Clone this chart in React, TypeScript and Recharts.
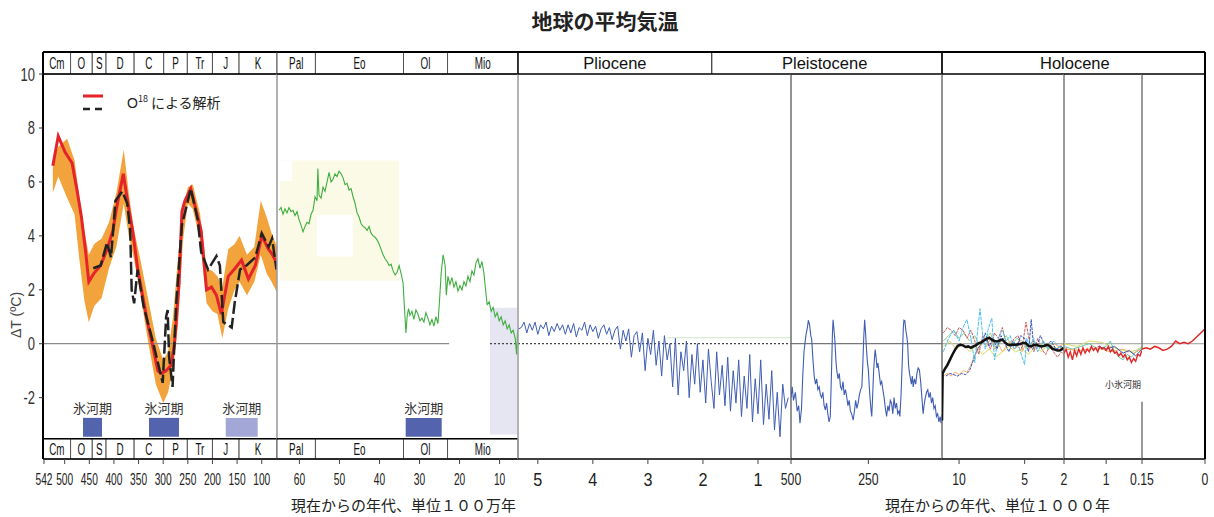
import React from 'react'
import { ComposedChart, Line, Area, XAxis, YAxis, ReferenceArea, ReferenceLine, ReferenceDot } from 'recharts'

// shared vertical scale: header strip above 10, period strip below -3.5
const Y_TOP = 10.818
const Y_BOT = -4.275
const Y_BAND = -3.52
const yTicks = [-2, 0, 2, 4, 6, 8, 10]

// geologic periods (Ma)
const paleoNames = ['Cm', 'O', 'S', 'D', 'C', 'P', 'Tr', 'J', 'K']
const paleoBounds = [544, 488, 444, 416, 359, 299, 251, 200, 146, 69]
const cenoNames = ['Pal', 'Eo', 'Ol', 'Mio']
const cenoBounds = [65.6, 56, 34, 23, 5.4]
const glacialPaleo = [[462.8, 424.2], [328.8, 267.9], [173.1, 108.2]]
const glacialCeno = [[33.45, 24.46]]
const glacialLabel = '氷河期'
const littleIceAge = '小氷河期'

// O18 analysis, 542 - 65 Ma
const o18Red = [
  [524, 6.6], [513, 7.7], [499, 7.1], [485, 6.7], [475, 5.7], [466, 4.7], [458, 3.5], [451, 2.3], [441, 2.6],
  [427, 2.9], [414, 3.5], [402, 4.2], [394, 5.1], [381, 6.3], [369, 4.9], [362, 4.2], [352, 2.8], [342, 1.8],
  [332, 0.8], [321, -0.1], [311, -1.0], [304, -1.1], [294, -1.0], [284, -0.8], [277, 0.0], [268, 2.2],
  [262, 4.9], [256, 5.3], [244, 5.75], [230, 4.7], [223, 4.2], [212, 2.0], [202, 2.1], [192, 1.8], [182, 1.1],
  [168, 2.5], [154, 2.8], [141, 3.1], [127, 2.4], [113, 2.9], [100, 4.0], [86, 3.5], [78, 3.3], [70, 3.0],
]
const o18Black = [
  [442, 2.8], [427, 2.9], [414, 3.75], [406, 3.2], [402, 4.1], [397, 5.3], [383, 5.65], [373, 5.2], [367, 4.2],
  [364, 2.0], [359, 1.5], [352, 2.75], [340, 1.4], [322, 0.15], [301, -1.45], [294, 1.0], [291, 1.25],
  [288, -0.5], [281, -1.6], [274, 1.4], [262, 4.4], [244, 5.75], [230, 4.6], [223, 3.4], [209, 2.75],
  [192, 3.25], [185, 2.9], [178, 0.8], [161, 0.6], [155, 1.5], [144, 2.75], [131, 2.9], [113, 3.2],
  [100, 4.1], [86, 3.6], [79, 3.9], [70, 2.75],
]
const bandAge = [524, 513, 495, 480, 470, 460, 451, 440, 425, 410, 395, 380, 370, 360, 345, 330, 315, 300, 290, 280, 270, 260, 250, 240, 225, 212, 200, 190, 180, 168, 155, 145, 130, 115, 102, 90, 80, 69]
const bandHigh = [6.8, 7.3, 7.6, 6.8, 5.4, 4.2, 3.3, 3.7, 3.9, 4.5, 5.6, 7.2, 5.6, 4.3, 3.0, 1.6, 0.2, -0.6, -0.3, 1.0, 3.2, 5.0, 5.8, 5.9, 4.8, 2.8, 2.7, 2.5, 2.1, 3.5, 3.7, 4.0, 3.3, 3.6, 5.3, 4.7, 4.1, 3.6]
const bandLow = [5.6, 6.2, 5.4, 4.8, 3.1, 1.6, 0.8, 1.4, 1.7, 2.8, 3.6, 5.2, 4.0, 3.2, 1.7, 0.0, -1.5, -2.2, -1.8, -0.9, 0.7, 3.8, 5.2, 5.0, 3.8, 1.5, 1.2, 1.1, 0.2, 1.3, 2.0, 2.3, 1.8, 2.3, 3.3, 2.6, 2.3, 1.9]

// Cenozoic record, 65 - 5 Ma
const cenozoicGreen = [
  [65.1, 4.95], [64.6, 5.05], [64.1, 4.8], [63.6, 5.0], [63.1, 4.85], [62.6, 5.05], [62.1, 4.9], [61.6, 4.95],
  [61.1, 4.75], [60.6, 4.9], [60.1, 4.6], [59.6, 4.4], [59.1, 4.15], [58.6, 4.35], [58.1, 4.5], [57.6, 4.45],
  [57.1, 4.8], [56.6, 4.95], [56.1, 5.45], [55.6, 5.3], [55.4, 6.5], [55.1, 5.5], [54.6, 5.4], [54.1, 5.8],
  [53.6, 5.65], [53.1, 6.0], [52.6, 6.35], [52.1, 6.0], [51.6, 6.1], [51.1, 6.3], [50.6, 6.2], [50.1, 6.4],
  [49.6, 6.3], [49.1, 6.15], [48.6, 5.9], [48.1, 5.95], [47.6, 5.7], [47.1, 5.75], [46.6, 5.45], [46.1, 5.2],
  [45.6, 4.85], [45.1, 4.7], [44.6, 4.45], [44.1, 4.35], [43.6, 4.3], [43.1, 4.2], [42.6, 4.35], [42.1, 4.1],
  [41.6, 4.0], [41.1, 3.95], [40.6, 3.85], [40.1, 3.7], [39.6, 3.5], [39.1, 3.3], [38.6, 3.15], [38.1, 3.05],
  [37.6, 2.9], [37.1, 2.95], [36.6, 2.7], [36.1, 2.55], [35.6, 2.65], [35.1, 2.9], [34.6, 2.6], [34.1, 2.25],
  [33.75, 1.3], [33.4, 0.4], [33.1, 1.0], [32.75, 1.3], [32.4, 1.05], [31.9, 1.2], [31.4, 0.9], [30.9, 1.25],
  [30.4, 1.1], [29.9, 0.85], [29.4, 0.95], [28.9, 0.8], [28.4, 1.15], [27.9, 0.95], [27.4, 0.7], [26.9, 0.9],
  [26.4, 0.65], [25.9, 1.0], [25.4, 0.75], [25.0, 1.6], [24.6, 2.6], [24.1, 3.3], [23.6, 2.9], [23.3, 1.8],
  [22.9, 2.5], [22.4, 2.2], [21.9, 2.45], [21.4, 2.1], [20.9, 2.3], [20.4, 1.95], [19.9, 2.15], [19.4, 2.0],
  [18.9, 2.3], [18.4, 2.15], [17.9, 2.5], [17.4, 2.3], [16.9, 2.7], [16.4, 2.55], [15.9, 3.0], [15.4, 3.15],
  [14.9, 2.8], [14.4, 3.05], [13.9, 2.6], [13.5, 2.0], [13.1, 1.45], [12.6, 1.55], [12.1, 1.2], [11.6, 1.35],
  [11.1, 1.0], [10.6, 1.15], [10.1, 0.85], [9.6, 1.0], [9.1, 0.7], [8.6, 0.85], [8.1, 0.55], [7.6, 0.7],
  [7.1, 0.4], [6.6, 0.5], [6.1, 0.2], [5.75, -0.4], [5.5, 0.5],
]

// Pliocene, 5.3 - 0.5 Ma
const plioceneBlue = [
  [5.35, 0.55], [5.3, 0.6], [5.25, 0.8], [5.2, 0.4], [5.15, 0.75], [5.1, 0.5], [5.05, 0.8], [5.0, 0.35],
  [4.95, 0.7], [4.9, 0.55], [4.85, 0.8], [4.8, 0.3], [4.75, 0.65], [4.7, 0.45], [4.65, 0.75], [4.6, 0.5],
  [4.55, 0.7], [4.5, 0.35], [4.45, 0.7], [4.4, 0.4], [4.35, 0.75], [4.3, 0.25], [4.25, 0.6], [4.2, 0.5],
  [4.15, 0.8], [4.1, 0.3], [4.05, 0.7], [4.0, 0.45], [3.95, 0.65], [3.9, 0.2], [3.85, 0.55], [3.8, 0.7],
  [3.75, 0.35], [3.7, 0.6], [3.65, 0.15], [3.6, 0.5], [3.55, 0.65], [3.5, -0.2], [3.45, 0.5], [3.4, 0.1],
  [3.35, 0.55], [3.3, -0.5], [3.25, 0.3], [3.2, 0.45], [3.15, -0.3], [3.1, 0.4], [3.05, -1.0], [3.0, 0.2],
  [2.95, -0.4], [2.9, 0.5], [2.85, -0.8], [2.8, 0.1], [2.75, -1.2], [2.7, 0.3], [2.65, -0.6], [2.6, 0.0],
  [2.55, -1.6], [2.5, 0.2], [2.45, -1.9], [2.4, -0.3], [2.35, -1.0], [2.3, 0.1], [2.25, -2.0], [2.2, -0.4],
  [2.15, -1.5], [2.1, 0.0], [2.05, -1.8], [2.0, -0.6], [1.95, -2.2], [1.9, -0.2], [1.85, -1.4], [1.8, -2.4],
  [1.75, -0.3], [1.7, -1.9], [1.65, -0.8], [1.6, -2.3], [1.55, -0.5], [1.5, -2.5], [1.45, -1.0], [1.4, -2.2],
  [1.35, -0.6], [1.3, -2.7], [1.25, -1.2], [1.2, -2.4], [1.15, -0.4], [1.1, -2.9], [1.05, -1.3], [1.0, -2.6],
  [0.95, -0.6], [0.9, -3.0], [0.85, -1.5], [0.8, -2.8], [0.75, -1.0], [0.7, -3.2], [0.65, -1.8], [0.6, -3.45],
  [0.55, -1.5], [0.5, -2.4], [0.45, -2.0],
]

// Pleistocene, 500 - 12 kyr
const pleistoceneBlue = [
  [500, -2.0], [496, -1.6], [492, -2.1], [486, -1.8], [480, -2.5], [475, -2.3], [471, -2.95], [466, -2.4],
  [462, -1.2], [458, -0.3], [452, 0.3], [447, 0.6], [444, 0.87], [440, 0.7], [436, 0.3], [433, 0.15],
  [429, -0.6], [425, -1.2], [421, -1.5], [417, -1.3], [413, -1.7], [409, -1.6], [405, -1.9], [401, -2.0],
  [397, -1.8], [393, -2.3], [389, -2.45], [385, -2.2], [381, -2.6], [377, -2.9], [373, -2.7], [369, -1.0],
  [366, 0.4], [364, 0.89], [361, 0.5], [358, 0.1], [355, -0.6], [352, -1.0], [348, -1.3], [344, -1.1],
  [340, -1.6], [336, -1.7], [332, -1.4], [328, -1.9], [324, -1.7], [320, -1.96], [316, -2.3], [312, -2.1],
  [308, -2.5], [304, -2.6], [299, -2.83], [295, -2.5], [291, -2.1], [287, -2.4], [283, -2.2], [279, -1.9],
  [275, -1.7], [271, -1.6], [268, -0.8], [265, 0.2], [262, 0.89], [259, 0.4], [256, -0.2], [253, -0.7],
  [250, -0.97], [247, -1.6], [244, -2.1], [241, -2.5], [239, -2.7], [236, -1.9], [233, -1.0], [230, -0.5],
  [228, -0.22], [225, -0.5], [222, -0.9], [219, -0.72], [215, -1.1], [211, -1.5], [207, -1.4], [203, -1.71],
  [199, -2.0], [195, -2.4], [191, -2.7], [187, -2.3], [183, -2.5], [179, -2.1], [175, -2.2], [171, -2.6],
  [167, -2.0], [163, -2.4], [159, -2.2], [155, -2.6], [151, -2.5], [148, -2.7], [144, -1.8], [140, -0.5],
  [137, 0.6], [135, 0.87], [132, 0.85], [129, 0.5], [126, 0.3], [123, 0.0], [120, -0.8], [117, -1.1],
  [114, -1.3], [111, -1.5], [108, -1.2], [105, -1.6], [101, -1.3], [97, -1.5], [93, -1.1], [89, -0.9],
  [85, -0.97], [81, -1.4], [77, -2.0], [73, -2.6], [70, -2.3], [66, -2.0], [62, -1.8], [58, -1.71],
  [54, -2.0], [50, -1.8], [46, -2.2], [42, -2.0], [38, -2.4], [34, -2.3], [30, -2.7], [26, -2.6],
  [22, -2.9], [18, -2.7], [15, -2.95], [12, -2.6],
]

// Holocene, 11.3 - 2 kyr
const holoceneMean = [
  [11.3, -2.85], [11.25, -1.1], [11.1, -0.95], [10.9, -0.8], [10.7, -0.6], [10.5, -0.4], [10.3, -0.22],
  [10.1, -0.08], [9.9, -0.04], [9.7, -0.06], [9.5, -0.12], [9.3, -0.1], [9.1, -0.15], [8.9, -0.1],
  [8.7, -0.05], [8.5, 0.02], [8.3, 0.05], [8.1, 0.12], [7.9, 0.18], [7.7, 0.22], [7.5, 0.15], [7.3, 0.1],
  [7.1, 0.08], [6.9, 0.12], [6.7, 0.15], [6.5, 0.05], [6.3, -0.03], [6.1, -0.05], [5.9, -0.03], [5.7, -0.05],
  [5.5, -0.02], [5.3, 0.0], [5.1, 0.03], [4.9, 0.02], [4.7, -0.08], [4.5, -0.1], [4.3, -0.05], [4.1, -0.04],
  [3.9, -0.08], [3.7, -0.1], [3.5, -0.08], [3.3, -0.04], [3.1, -0.08], [2.9, -0.18], [2.7, -0.22],
  [2.5, -0.25], [2.3, -0.24], [2.1, -0.18], [2.0, -0.15],
]
const holoceneProxyA = [
  [11.2, -0.3], [10.8, 0.2], [10.4, 0.5], [10.0, 0.1], [9.7, 0.6], [9.4, 0.9], [9.1, 0.2], [8.8, -0.7],
  [8.6, 0.4], [8.4, 1.3], [8.2, 0.3], [8.0, -0.2], [7.8, 0.5], [7.5, 0.95], [7.3, -0.6], [7.0, 0.2],
  [6.7, 0.5], [6.4, 0.1], [6.1, 0.3], [5.8, -0.2], [5.5, 0.0], [5.2, -0.5], [5.0, -0.78], [4.85, 0.2],
  [4.6, -0.1], [4.3, 0.2], [4.0, -0.3], [3.6, 0.1], [3.2, -0.2], [2.8, 0.1], [2.4, -0.1], [2.0, -0.2],
]
const holoceneProxyB = [
  [11.2, 0.4], [10.9, 0.6], [10.6, 0.5], [10.3, 0.3], [10.0, 0.6], [9.7, 0.5], [9.4, 0.2], [9.1, 0.5],
  [8.8, 0.1], [8.5, -0.4], [8.2, 0.3], [7.9, 0.1], [7.6, -0.2], [7.3, 0.4], [7.0, 0.2], [6.7, 0.6],
  [6.4, 0.0], [6.1, -0.1], [5.8, 0.2], [5.5, 0.3], [5.2, -0.2], [4.9, 0.8], [4.6, 0.0], [4.3, -0.3],
  [4.0, 0.2], [3.7, -0.2], [3.4, -0.4], [3.1, -0.1], [2.8, -0.3], [2.5, -0.5], [2.2, -0.3], [2.0, -0.4],
]
const holoceneProxyC = [
  [11.2, 0.1], [10.8, 0.3], [10.4, 0.5], [10.0, 0.2], [9.6, 0.4], [9.2, 0.1], [8.8, 0.3], [8.4, -0.1],
  [8.0, 0.2], [7.6, 0.4], [7.2, -0.2], [6.8, 0.1], [6.4, 0.3], [6.0, -0.1], [5.6, 0.2], [5.2, 0.1],
  [4.8, -0.2], [4.4, 0.1], [4.0, -0.1], [3.6, 0.0], [3.2, -0.2], [2.8, -0.1], [2.4, -0.3], [2.0, -0.2],
]
const holoceneProxyD = [
  [11.2, -1.2], [10.9, -1.1], [10.6, -1.2], [10.3, -1.05], [10.0, -1.15], [9.7, -1.0], [9.4, -1.05],
  [9.1, -0.8], [8.8, -0.4], [8.5, -0.2], [8.2, 0.1], [7.9, -0.1], [7.6, 0.2], [7.3, -0.2], [7.0, 0.0],
  [6.7, -0.3], [6.4, -0.1], [6.1, 0.1], [5.8, -0.2], [5.5, -0.1], [5.2, -0.3], [4.9, 0.0], [4.6, -0.2],
  [4.3, 0.1], [4.0, -0.1], [3.6, 0.05], [3.2, -0.15], [2.8, 0.0], [2.4, -0.1], [2.0, 0.0],
]
const holoceneProxyE = [
  [11.0, -1.2], [10.7, -1.1], [10.4, -1.15], [10.1, -1.2], [9.8, -1.1], [9.5, -1.15], [9.2, -1.0],
  [8.9, -0.6], [8.6, -0.2], [8.3, 0.0], [8.0, 0.4], [7.7, -0.1], [7.4, 0.2], [7.1, -0.2], [6.8, 0.3],
  [6.5, 0.0], [6.2, -0.3], [5.9, 0.1], [5.6, -0.1], [5.3, 0.3], [5.0, 0.2], [4.7, -0.3], [4.5, 0.9],
  [4.3, -0.2], [4.1, -0.2], [3.8, 0.3], [3.4, -0.1], [3.0, 0.1], [2.6, -0.2], [2.2, -0.1], [2.0, -0.3],
]
const holoceneProxyF = [
  [11.2, -0.1], [10.7, 0.1], [10.2, -0.2], [9.7, 0.0], [9.2, -0.3], [8.7, -0.1], [8.2, -0.4], [7.7, -0.2],
  [7.2, -0.5], [6.7, -0.3], [6.2, -0.1], [5.7, -0.3], [5.2, -0.2], [4.7, -0.4], [4.2, -0.1], [3.7, -0.3],
  [3.2, 0.0], [2.7, -0.2], [2.2, -0.1], [2.0, -0.2],
]

// last 2000 years
const recentRed = [
  [2.0, -0.35], [1.95, -0.2], [1.9, -0.5], [1.85, -0.3], [1.8, -0.6], [1.75, -0.25], [1.7, -0.45],
  [1.65, -0.2], [1.6, -0.4], [1.55, -0.15], [1.5, -0.35], [1.45, -0.2], [1.4, -0.3], [1.35, -0.1],
  [1.3, -0.25], [1.25, -0.15], [1.2, -0.3], [1.15, -0.1], [1.1, -0.2], [1.05, -0.15], [1.0, -0.25],
  [0.95, -0.1], [0.9, -0.3], [0.85, -0.2], [0.8, -0.35], [0.75, -0.3], [0.7, -0.45], [0.65, -0.35],
  [0.6, -0.5], [0.55, -0.4], [0.5, -0.6], [0.45, -0.5], [0.4, -0.7], [0.35, -0.55], [0.3, -0.65],
  [0.25, -0.4], [0.2, -0.45], [0.15, -0.25],
]
const recentTeal = [[2.0, -0.1], [1.8, -0.2], [1.6, -0.1], [1.4, 0.0], [1.2, -0.2], [1.0, -0.1], [0.9, 0.1], [0.8, -0.3], [0.7, -0.5], [0.6, -0.6], [0.5, -0.4], [0.4, -0.5], [0.3, -0.3], [0.2, -0.2], [0.15, -0.15]]
const recentYellow = [[2.0, 0.0], [1.7, -0.1], [1.4, 0.1], [1.1, 0.05], [0.9, -0.1], [0.7, -0.2], [0.5, -0.3], [0.3, -0.25], [0.15, -0.1]]
const recentBlue = [[1.2, -0.1], [1.0, -0.2], [0.8, -0.1], [0.6, -0.35], [0.45, -0.25], [0.3, -0.45], [0.15, -0.2]]
const recentOrange = [[2.0, -0.2], [1.6, -0.25], [1.2, -0.15], [0.9, -0.3], [0.6, -0.2], [0.35, -0.35], [0.15, -0.2]]
const instrumental = [
  [0.15, -0.2], [0.14, -0.15], [0.13, -0.2], [0.12, -0.1], [0.11, -0.15], [0.1, -0.25], [0.09, -0.2],
  [0.08, -0.1], [0.07, 0.1], [0.06, 0.0], [0.05, 0.05], [0.04, 0.0], [0.03, 0.1], [0.02, 0.25],
  [0.01, 0.4], [0.0, 0.55],
]

const ticksP1 = [542, 500, 450, 400, 350, 300, 250, 200, 150, 100]
const ticksP2 = [60, 50, 40, 30, 20, 10]
const ticksP3 = [5, 4, 3, 2, 1]
const ticksP4 = [500, 250]
const ticksP5 = [10, 5]
const ticksP6 = [2, 1]
const ticksP7 = [0.15, 0]

const SANS = "'Liberation Sans', Arial, sans-serif"
const CJK = "'Noto Sans CJK JP', sans-serif"
const PLOT_TOP = 52
const PLOT_H = 407
const XAXIS_H = 30

const pts = (arr: number[][]) => arr.map(([age, t]) => ({ age, t }))
const bandData = bandAge.map((age, i) => ({ age, range: [bandLow[i], bandHigh[i]] }))

const makeTick = (fs: number, sx: number) => (p: any) => (
  <g transform={`translate(${p.x},${p.y})`}>
    <text transform={`scale(${sx},1)`} textAnchor="middle" dy={fs * 0.78} fontSize={fs} fill="#222" fontFamily={SANS}>
      {p.payload.value}
    </text>
  </g>
)

const yTick = (p: any) => (
  <g transform={`translate(${p.x},${p.y})`}>
    <text transform="scale(0.72,1)" textAnchor="end" dy="0.36em" fontSize={18} fill="#333" fontFamily={SANS}>
      {p.payload.value}
    </text>
  </g>
)

const boxLabel = (text: string, fs: number, sx: number, align: 'middle' | 'start' = 'middle', dx = 0) =>
  (props: any) => {
    const vb = props.viewBox || {}
    const cx = align === 'middle' ? vb.x + vb.width / 2 : vb.x + dx
    const cy = vb.y + vb.height / 2
    return (
      <text transform={`translate(${cx},${cy}) scale(${sx},1)`} textAnchor={align} dy="0.36em" fontSize={fs} fill="#111" fontFamily={SANS}>
        {text}
      </text>
    )
  }

const cells = (names: string[], bounds: number[], y1: number, y2: number, key: string) =>
  names.map((n, i) => (
    <ReferenceArea key={`${key}-${n}`} x1={bounds[i]} x2={bounds[i + 1]} y1={y1} y2={y2} fill="#fff" fillOpacity={1}
      stroke="#555" strokeWidth={1} label={boxLabel(n, 17, 0.58)} />
  ))

const glacials = (list: number[][], key: string) =>
  list.map(([a, b], i) => (
    <ReferenceArea key={`${key}-${i}`} x1={a} x2={b} y1={-2.75} y2={-3.45} stroke="none" fillOpacity={1}
      fill={key === 'gp' && i === 2 ? '#a3a7d7' : '#5463ad'}
      label={{ value: glacialLabel, position: 'top', offset: 5, fontSize: 13, fill: '#333', fontFamily: CJK }} />
  ))

const frameTop = (key: string) => [
  <ReferenceLine key={`${key}-t`} y={Y_TOP} stroke="#000" strokeWidth={2} />,
  <ReferenceLine key={`${key}-h`} y={10} stroke="#000" strokeWidth={1.5} />,
]

type PanelProps = {
  left: number
  width: number
  domain: [number, number]
  ticks: number[]
  tick: any
  withY?: boolean
  children: React.ReactNode
}

function Panel({ left, width, domain, ticks, tick, withY, children }: PanelProps) {
  return (
    <div style={{ position: 'absolute', left, top: PLOT_TOP }}>
      <ComposedChart width={width} height={PLOT_H + XAXIS_H} margin={{ top: 0, right: 0, bottom: 0, left: 0 }}>
        <XAxis type="number" dataKey="age" domain={domain} reversed allowDataOverflow ticks={ticks} interval={0}
          tick={tick} tickSize={5} tickMargin={8} tickLine={{ stroke: '#444' }}
          axisLine={{ stroke: '#000', strokeWidth: 1.5 }} height={XAXIS_H} />
        {withY ? (
          <YAxis type="number" domain={[Y_BOT, Y_TOP]} allowDataOverflow ticks={yTicks} interval={0} width={43}
            tick={yTick} tickSize={4} tickMargin={4} tickLine={{ stroke: '#333' }}
            axisLine={{ stroke: '#000', strokeWidth: 2 }} />
        ) : (
          <YAxis type="number" hide domain={[Y_BOT, Y_TOP]} allowDataOverflow />
        )}
        {children}
      </ComposedChart>
    </div>
  )
}

export default function App() {
  return (
    <div style={{ position: 'absolute', left: 0, top: 0, width: 1214, height: 517, background: '#fff', fontFamily: SANS }}>
      <style>{'.recharts-surface{overflow:visible}'}</style>

      <div style={{ position: 'absolute', left: 0, top: 5, width: 1210, textAlign: 'center', fontFamily: CJK, fontWeight: 700, fontSize: 21, color: '#222' }}>
        地球の平均気温
      </div>

      {/* 542 - 65 Ma */}
      <Panel left={0} width={277} domain={[69, 544]} ticks={ticksP1} tick={makeTick(17, 0.6)} withY>
        <ReferenceLine y={0} stroke="#8a8a8a" strokeWidth={1.2} />
        <Area data={bandData} dataKey="range" type="linear" fill="#f3a33c" fillOpacity={1} stroke="none" isAnimationActive={false} />
        <Line data={pts(o18Red)} dataKey="t" type="linear" stroke="#e4232b" strokeWidth={3} dot={false} activeDot={false} isAnimationActive={false} />
        <Line data={pts(o18Black)} dataKey="t" type="linear" stroke="#222" strokeWidth={2.5} strokeDasharray="13 4" dot={false} activeDot={false} isAnimationActive={false} />
        {glacials(glacialPaleo, 'gp')}
        {cells(paleoNames, paleoBounds, 10, Y_TOP, 'hp')}
        {cells(paleoNames, paleoBounds, Y_BOT, Y_BAND, 'bp')}
        {frameTop('p1')}
        <ReferenceLine y={Y_BAND} stroke="#000" strokeWidth={1.5} />
      </Panel>

      {/* 65 - 5 Ma */}
      <Panel left={277} width={241} domain={[5.4, 65.6]} ticks={ticksP2} tick={makeTick(17, 0.6)}>
        <ReferenceArea x1={64.85} x2={35.12} y1={6.79} y2={2.34} fill="#fafae6" fillOpacity={1} stroke="none" />
        <ReferenceArea x1={64.85} x2={61.85} y1={6.79} y2={6.04} fill="#fff" fillOpacity={1} stroke="none" />
        <ReferenceArea x1={55.61} x2={46.62} y1={4.78} y2={3.23} fill="#fff" fillOpacity={1} stroke="none" />
        <ReferenceArea x1={12.39} x2={5.65} y1={1.33} y2={-3.37} fill="#e6e6f2" fillOpacity={1} stroke="none" />
        <ReferenceLine segment={[{ x: 65.6, y: 0 }, { x: 22.6, y: 0 }]} stroke="#8a8a8a" strokeWidth={1.2} />
        <ReferenceLine segment={[{ x: 12.39, y: 0 }, { x: 5.4, y: 0 }]} stroke="#444" strokeWidth={1.2} strokeDasharray="2 2" />
        <ReferenceLine segment={[{ x: 65.6, y: Y_BAND }, { x: 65.6, y: 10 }]} stroke="#9a9a9a" strokeWidth={1.5} />
        <Line data={pts(cenozoicGreen)} dataKey="t" type="linear" stroke="#3fae3f" strokeWidth={1.1} dot={false} activeDot={false} isAnimationActive={false} />
        {glacials(glacialCeno, 'gc')}
        {cells(cenoNames, cenoBounds, 10, Y_TOP, 'hc')}
        {cells(cenoNames, cenoBounds, Y_BOT, Y_BAND, 'bc')}
        {frameTop('p2')}
        <ReferenceLine y={Y_BAND} stroke="#000" strokeWidth={1.5} />
      </Panel>

      {/* 5.3 - 0.5 Ma */}
      <Panel left={518} width={273} domain={[0.4, 5.36]} ticks={ticksP3} tick={makeTick(18, 0.9)}>
        <ReferenceLine segment={[{ x: 2.65, y: 0.22 }, { x: 0.4, y: 0.22 }]} stroke="#cfe8c8" strokeWidth={1} />
        <ReferenceLine y={0} stroke="#444" strokeWidth={1.2} strokeDasharray="2 2" />
        <ReferenceLine segment={[{ x: 5.36, y: Y_BOT }, { x: 5.36, y: 10 }]} stroke="#9a9a9a" strokeWidth={1.5} />
        <Line data={pts(plioceneBlue)} dataKey="t" type="linear" stroke="#3f5db3" strokeWidth={1} dot={false} activeDot={false} isAnimationActive={false} />
        <ReferenceArea x1={5.36} x2={1.84} y1={10} y2={Y_TOP} fill="#fff" fillOpacity={1} stroke="none" label={boxLabel('Pliocene', 16.5, 1)} />
        <ReferenceArea x1={1.84} x2={0.4} y1={10} y2={Y_TOP} fill="#fff" fillOpacity={1} stroke="none" />
        <ReferenceLine segment={[{ x: 5.36, y: 10 }, { x: 5.36, y: Y_TOP }]} stroke="#000" strokeWidth={1.5} />
        <ReferenceLine segment={[{ x: 1.84, y: 10 }, { x: 1.84, y: Y_TOP }]} stroke="#333" strokeWidth={1.2} />
        {frameTop('p3')}
      </Panel>

      {/* 500 - 12 kyr */}
      <Panel left={791} width={151} domain={[12, 500]} ticks={ticksP4} tick={makeTick(17, 0.72)}>
        <ReferenceLine y={0} stroke="#777" strokeWidth={1.2} />
        <ReferenceLine segment={[{ x: 500, y: Y_BOT }, { x: 500, y: 10 }]} stroke="#6f6f6f" strokeWidth={1.5} />
        <Line data={pts(pleistoceneBlue)} dataKey="t" type="linear" stroke="#3f5db3" strokeWidth={1.1} dot={false} activeDot={false} isAnimationActive={false} />
        <ReferenceArea x1={500} x2={12} y1={10} y2={Y_TOP} fill="#fff" fillOpacity={1} stroke="none" label={boxLabel('Pleistocene', 16.5, 1, 'start', -9)} />
        {frameTop('p4')}
      </Panel>

      {/* Holocene 11.3 - 2 kyr */}
      <Panel left={942} width={122} domain={[2, 11.3]} ticks={ticksP5} tick={makeTick(17, 0.72)}>
        <ReferenceLine y={0} stroke="#9a9a9a" strokeWidth={1} />
        <ReferenceLine segment={[{ x: 11.3, y: Y_BOT }, { x: 11.3, y: Y_TOP }]} stroke="#6f6f6f" strokeWidth={1.5} />
        <Line data={pts(holoceneProxyF)} dataKey="t" type="linear" stroke="#d8dc6a" strokeWidth={1} dot={false} activeDot={false} isAnimationActive={false} />
        <Line data={pts(holoceneProxyC)} dataKey="t" type="linear" stroke="#8fd08f" strokeWidth={1} dot={false} activeDot={false} isAnimationActive={false} />
        <Line data={pts(holoceneProxyB)} dataKey="t" type="linear" stroke="#c85a5a" strokeWidth={1} strokeDasharray="3 1" dot={false} activeDot={false} isAnimationActive={false} />
        <Line data={pts(holoceneProxyD)} dataKey="t" type="linear" stroke="#f5ad68" strokeWidth={1} dot={false} activeDot={false} isAnimationActive={false} />
        <Line data={pts(holoceneProxyE)} dataKey="t" type="linear" stroke="#3552b8" strokeWidth={1} strokeDasharray="3 1" dot={false} activeDot={false} isAnimationActive={false} />
        <Line data={pts(holoceneProxyA)} dataKey="t" type="linear" stroke="#4fc0ee" strokeWidth={1} strokeDasharray="4 1" dot={false} activeDot={false} isAnimationActive={false} />
        <Line data={pts(holoceneMean)} dataKey="t" type="linear" stroke="#111" strokeWidth={2.5} dot={false} activeDot={false} isAnimationActive={false} />
        <ReferenceArea x1={11.3} x2={2} y1={10} y2={Y_TOP} fill="#fff" fillOpacity={1} stroke="none" label={boxLabel('Holocene', 16.5, 1, 'start', 98)} />
        <ReferenceLine segment={[{ x: 11.3, y: 10 }, { x: 11.3, y: Y_TOP }]} stroke="#000" strokeWidth={1.5} />
        {frameTop('p5')}
      </Panel>

      {/* 2 - 0.15 kyr */}
      <Panel left={1064} width={78} domain={[0.15, 2]} ticks={ticksP6} tick={makeTick(17, 0.72)}>
        <ReferenceLine y={0} stroke="#9a9a9a" strokeWidth={1} />
        <ReferenceLine segment={[{ x: 2, y: Y_BOT }, { x: 2, y: 10 }]} stroke="#7a7a7a" strokeWidth={1.5} />
        <Line data={pts(recentYellow)} dataKey="t" type="linear" stroke="#d8dc6a" strokeWidth={1} dot={false} activeDot={false} isAnimationActive={false} />
        <Line data={pts(recentTeal)} dataKey="t" type="linear" stroke="#6cc6a6" strokeWidth={1} dot={false} activeDot={false} isAnimationActive={false} />
        <Line data={pts(recentOrange)} dataKey="t" type="linear" stroke="#f5ad68" strokeWidth={1} dot={false} activeDot={false} isAnimationActive={false} />
        <Line data={pts(recentBlue)} dataKey="t" type="linear" stroke="#3552b8" strokeWidth={1} dot={false} activeDot={false} isAnimationActive={false} />
        <Line data={pts(recentRed)} dataKey="t" type="linear" stroke="#e02828" strokeWidth={1.4} dot={false} activeDot={false} isAnimationActive={false} />
        <ReferenceDot x={0.6} y={-1.52} r={0} fill="none" stroke="none"
          label={{ value: littleIceAge, position: 'center', fontSize: 9, fill: '#333', fontFamily: CJK }} />
        {frameTop('p6')}
      </Panel>

      {/* 0.15 - 0 kyr */}
      <Panel left={1142} width={63} domain={[0, 0.15]} ticks={ticksP7} tick={makeTick(17, 0.72)}>
        <ReferenceLine y={0} stroke="#9a9a9a" strokeWidth={1} />
        <ReferenceLine segment={[{ x: 0.15, y: -0.22 }, { x: 0.15, y: 10 }]} stroke="#7a7a7a" strokeWidth={1.5} />
        <ReferenceLine segment={[{ x: 0.15, y: Y_BOT }, { x: 0.15, y: -2.15 }]} stroke="#7a7a7a" strokeWidth={1.5} />
        <Line data={pts(instrumental)} dataKey="t" type="linear" stroke="#e02828" strokeWidth={1.5} dot={false} activeDot={false} isAnimationActive={false} />
        {frameTop('p7')}
        <ReferenceLine x={0} stroke="#000" strokeWidth={2} />
      </Panel>

      {/* legend */}
      <div style={{ position: 'absolute', left: 80, top: 88, fontFamily: CJK, fontSize: 14, color: '#222' }}>
        <svg width={30} height={28} style={{ position: 'absolute', left: 0, top: 0 }}>
          <line x1={3} y1={8} x2={23} y2={8} stroke="#e4232b" strokeWidth={3} />
          <line x1={3} y1={21} x2={23} y2={21} stroke="#222" strokeWidth={2.5} strokeDasharray="7 5" />
        </svg>
        <span style={{ position: 'absolute', left: 47, top: 4, whiteSpace: 'nowrap' }}>
          <span style={{ fontFamily: SANS }}>O</span>
          <sup style={{ fontSize: 9 }}>18</sup> による解析
        </span>
      </div>

      <div style={{ position: 'absolute', left: 16, top: 315, transform: 'translate(-50%,-50%) rotate(-90deg)', fontSize: 14, color: '#444', whiteSpace: 'nowrap' }}>
        ΔT (ºC)
      </div>

      <div style={{ position: 'absolute', left: 291, top: 494, fontFamily: CJK, fontSize: 15, color: '#222', whiteSpace: 'nowrap' }}>
        現在からの年代、単位１００万年
      </div>
      <div style={{ position: 'absolute', left: 885, top: 494, fontFamily: CJK, fontSize: 15, color: '#222', whiteSpace: 'nowrap' }}>
        現在からの年代、単位１０００年
      </div>
    </div>
  )
}
